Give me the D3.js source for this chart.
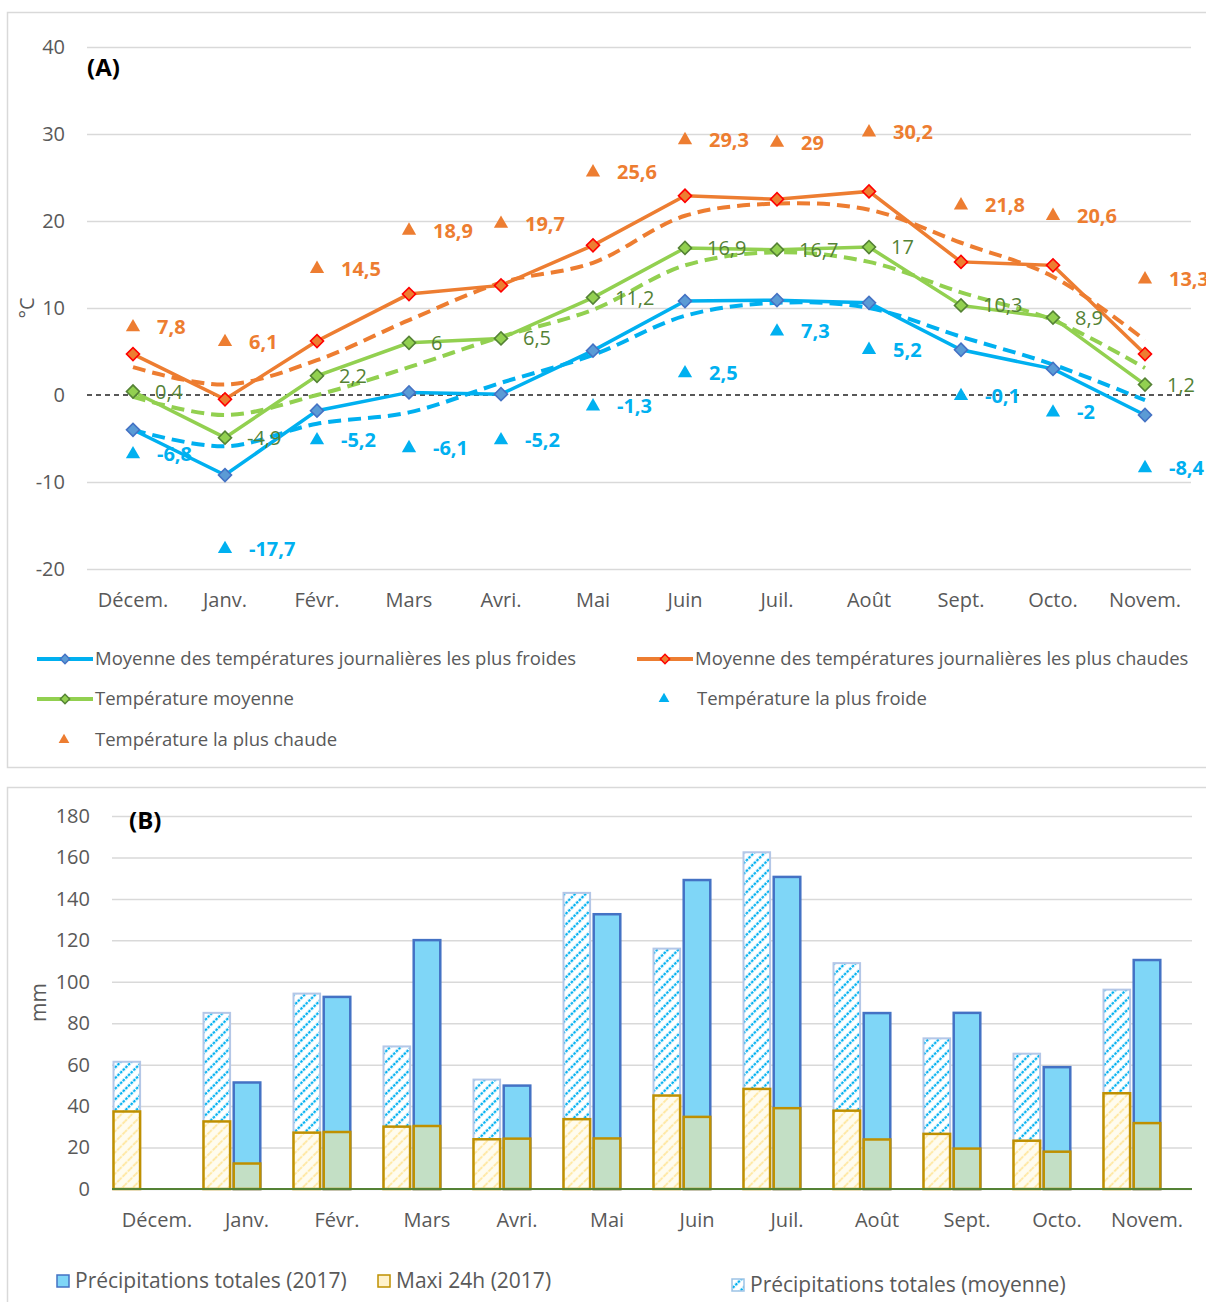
<!DOCTYPE html>
<html lang="fr">
<head>
<meta charset="utf-8">
<title>Températures et précipitations</title>
<script src="https://cdn.jsdelivr.net/npm/d3@7"></script>
<style>
  html, body { margin: 0; padding: 0; background: #fff; }
  svg { display: block; font-family: "Open Sans", "Noto Sans", sans-serif; }
</style>
</head>
<body>
<div id="chart"></div>
<script>
// Months (shared by both panels)
const months = ['Décem.', 'Janv.', 'Févr.', 'Mars', 'Avri.', 'Mai', 'Juin', 'Juil.', 'Août', 'Sept.', 'Octo.', 'Novem.'];

// (A) temperatures, °C
const coldMean = [-4.0, -9.2, -1.8, 0.3, 0.1, 5.1, 10.8, 10.9, 10.6, 5.2, 3.0, -2.3];
const warmMean = [4.7, -0.5, 6.2, 11.6, 12.6, 17.2, 22.9, 22.5, 23.4, 15.3, 14.9, 4.7];
const meanTemp = [0.4, -4.9, 2.2, 6, 6.5, 11.2, 16.9, 16.7, 17, 10.3, 8.9, 1.2];
const coldest = [-6.8, -17.7, -5.2, -6.1, -5.2, -1.3, 2.5, 7.3, 5.2, -0.1, -2, -8.4];
const hottest = [7.8, 6.1, 14.5, 18.9, 19.7, 25.6, 29.3, 29, 30.2, 21.8, 20.6, 13.3];
// dashed reference curves (normals)
const coldNormal = [-4.0, -5.9, -3.3, -2.0, 1.4, 4.6, 9.1, 10.6, 10.0, 6.7, 3.5, -0.6];
const warmNormal = [3.2, 1.2, 4.0, 8.6, 12.9, 15.2, 20.6, 22.0, 21.3, 17.5, 13.6, 6.3];
const meanNormal = [-0.2, -2.3, 0.0, 3.2, 6.7, 9.8, 14.9, 16.4, 15.3, 11.8, 8.6, 3.1];
const tempTicks = [-20, -10, 0, 10, 20, 30, 40];

// (B) precipitations, mm
const precipMoy = [61.4, 85, 94.3, 68.8, 52.8, 142.9, 116, 162.5, 109, 72.7, 65.3, 96.2];
const precip2017 = [null, 51.4, 92.7, 120.1, 49.9, 132.6, 149.1, 150.6, 84.9, 85, 58.8, 110.5];
const maxiMoy = [37.4, 32.6, 27.2, 30.1, 24.0, 33.7, 45.1, 48.3, 37.8, 26.6, 23.3, 46.2];
const maxi2017 = [null, 12.3, 27.5, 30.4, 24.3, 24.4, 34.8, 39.0, 23.9, 19.5, 18.0, 31.8];
const precipTicks = [0, 20, 40, 60, 80, 100, 120, 140, 160, 180];

const fmt = v => String(v).replace('.', ',');
const grey = '#595959';

const svg = d3.select('#chart').append('svg')
  .attr('width', 1206)
  .attr('height', 1302);

// patterns
const defs = svg.append('defs');
const pBlue = defs.append('pattern')
  .attr('id', 'hatchBlue')
  .attr('patternUnits', 'userSpaceOnUse')
  .attr('width', 7.5).attr('height', 7.5)
  .attr('patternTransform', 'rotate(45)');
pBlue.append('rect').attr('width', 7.5).attr('height', 7.5).attr('fill', '#fff');
pBlue.append('line')
  .attr('x1', 3.75).attr('y1', 0).attr('x2', 3.75).attr('y2', 7.5)
  .attr('stroke', '#00b0f0').attr('stroke-width', 2.3)
  .attr('stroke-dasharray', '2.5,1.25');

const pYellow = defs.append('pattern')
  .attr('id', 'hatchYellow')
  .attr('patternUnits', 'userSpaceOnUse')
  .attr('width', 7.5).attr('height', 7.5)
  .attr('patternTransform', 'rotate(45)');
pYellow.append('rect').attr('width', 7.5).attr('height', 7.5).attr('fill', '#fffcef');
pYellow.append('line')
  .attr('x1', 3.75).attr('y1', 0).attr('x2', 3.75).attr('y2', 7.5)
  .attr('stroke', '#ffe8a3').attr('stroke-width', 2)
  .attr('stroke-dasharray', '3,1.25');

// panel frames
svg.append('rect').attr('x', 7.5).attr('y', 12.5).attr('width', 1220).attr('height', 755)
  .attr('fill', 'none').attr('stroke', '#d9d9d9').attr('stroke-width', 1.5);
svg.append('rect').attr('x', 7.5).attr('y', 787.5).attr('width', 1220).attr('height', 540)
  .attr('fill', 'none').attr('stroke', '#d9d9d9').attr('stroke-width', 1.5);

/* ---------- (A) Temperatures ---------- */
const xA = d3.scaleBand().domain(months).range([87, 1191]);
const yA = d3.scaleLinear().domain([-20, 40]).range([569, 47]);
const cx = i => xA(months[i]) + xA.bandwidth() / 2;

const gA = svg.append('g');

gA.append('g')
  .attr('transform', 'translate(87,0)')
  .call(d3.axisLeft(yA).tickValues(tempTicks).tickFormat(d => String(d)).tickSize(-1104).tickPadding(22))
  .call(g => g.select('.domain').remove())
  .call(g => g.selectAll('.tick line').attr('stroke', '#d9d9d9').attr('stroke-width', 1.5))
  .call(g => g.selectAll('.tick').filter(d => d === 0).select('line').remove())
  .call(g => g.selectAll('.tick text').attr('fill', grey).attr('font-size', '20px')
    .attr('font-family', '"Open Sans", sans-serif'));

gA.append('line')
  .attr('x1', 87).attr('x2', 1191).attr('y1', yA(0)).attr('y2', yA(0))
  .attr('stroke', '#222').attr('stroke-width', 1.5).attr('stroke-dasharray', '5,4');

gA.append('g')
  .attr('transform', 'translate(0,569)')
  .call(d3.axisBottom(xA).tickSize(0).tickPadding(24))
  .call(g => g.select('.domain').remove())
  .call(g => g.selectAll('.tick text').attr('fill', grey).attr('font-size', '20px')
    .attr('font-family', '"Open Sans", sans-serif'));

gA.append('text')
  .attr('transform', `translate(34,${yA(10)}) rotate(-90)`)
  .attr('text-anchor', 'middle')
  .attr('fill', grey).attr('font-size', '20px')
  .text('°C');

gA.append('text')
  .attr('x', 87).attr('y', 76)
  .attr('font-size', '24px').attr('font-weight', 'bold').attr('fill', '#000')
  .text('(A)');

const lineA = d3.line().x((d, i) => cx(i)).y(d => yA(d));
const smoothA = d3.line().x((d, i) => cx(i)).y(d => yA(d)).curve(d3.curveCatmullRom);

const dashed = [
  { values: warmNormal, color: '#ed7d31' },
  { values: meanNormal, color: '#92d050' },
  { values: coldNormal, color: '#00b0f0' }
];
dashed.forEach(s => {
  gA.append('path')
    .attr('d', smoothA(s.values))
    .attr('fill', 'none').attr('stroke', s.color)
    .attr('stroke-width', 4).attr('stroke-dasharray', '13,7');
});

const solid = [
  { values: coldMean, color: '#00b0f0', fill: '#5b9bd5', edge: '#4472c4' },
  { values: warmMean, color: '#ed7d31', fill: '#ed7d31', edge: '#ff0000' },
  { values: meanTemp, color: '#92d050', fill: '#92d050', edge: '#548235' }
];
const diamond = d3.symbol().type(d3.symbolSquare).size(85);

solid.forEach(s => {
  gA.append('path')
    .attr('d', lineA(s.values))
    .attr('fill', 'none').attr('stroke', s.color).attr('stroke-width', 3.5);
});
solid.forEach(s => {
  gA.selectAll(null)
    .data(s.values)
    .enter()
    .append('path')
    .attr('d', diamond)
    .attr('transform', (d, i) => `translate(${cx(i)},${yA(d)}) rotate(45)`)
    .attr('fill', s.fill).attr('stroke', s.edge).attr('stroke-width', 1.6);
});

// green value labels
gA.selectAll(null)
  .data(meanTemp)
  .enter()
  .append('text')
  .attr('x', (d, i) => cx(i) + 22)
  .attr('y', d => yA(d))
  .attr('dy', '0.35em')
  .attr('fill', '#548235').attr('font-size', '20px')
  .text(fmt);

// extremes (triangles)
const tri = d3.symbol().type(d3.symbolTriangle).size(88);
const extremes = [
  { values: hottest, color: '#ed7d31' },
  { values: coldest, color: '#00b0f0' }
];
extremes.forEach(s => {
  gA.selectAll(null)
    .data(s.values)
    .enter()
    .append('path')
    .attr('d', tri)
    .attr('transform', (d, i) => `translate(${cx(i)},${yA(d)})`)
    .attr('fill', s.color);
  gA.selectAll(null)
    .data(s.values)
    .enter()
    .append('text')
    .attr('x', (d, i) => cx(i) + 24)
    .attr('y', d => yA(d))
    .attr('dy', '0.35em')
    .attr('fill', s.color).attr('font-size', '20px').attr('font-weight', 'bold')
    .text(fmt);
});

// legend (A)
const legA = gA.append('g').attr('font-size', '18.5px').attr('fill', grey);
const legLines = [
  { x: 37, y: 659, color: '#00b0f0', fill: '#5b9bd5', edge: '#4472c4', label: 'Moyenne des températures journalières les plus froides' },
  { x: 637, y: 659, color: '#ed7d31', fill: '#ed7d31', edge: '#ff0000', label: 'Moyenne des températures journalières les plus chaudes' },
  { x: 37, y: 699, color: '#92d050', fill: '#92d050', edge: '#548235', label: 'Température moyenne' }
];
legLines.forEach(l => {
  legA.append('line').attr('x1', l.x).attr('x2', l.x + 56).attr('y1', l.y).attr('y2', l.y)
    .attr('stroke', l.color).attr('stroke-width', 4);
  legA.append('path').attr('d', d3.symbol().type(d3.symbolSquare).size(44))
    .attr('transform', `translate(${l.x + 28},${l.y}) rotate(45)`)
    .attr('fill', l.fill).attr('stroke', l.edge).attr('stroke-width', 1.4);
  legA.append('text').attr('x', l.x + 58).attr('y', l.y).attr('dy', '0.35em').text(l.label);
});
const legTri = [
  { x: 664, tx: 697, y: 699, color: '#00b0f0', label: 'Température la plus froide' },
  { x: 64, tx: 95, y: 740, color: '#ed7d31', label: 'Température la plus chaude' }
];
legTri.forEach(l => {
  legA.append('path').attr('d', d3.symbol().type(d3.symbolTriangle).size(50))
    .attr('transform', `translate(${l.x},${l.y})`).attr('fill', l.color);
  legA.append('text').attr('x', l.tx).attr('y', l.y).attr('dy', '0.35em').text(l.label);
});

/* ---------- (B) Precipitations ---------- */
const xB = d3.scaleBand().domain(months).range([112, 1192]);
const xSub = d3.scaleBand().domain(['moy', '2017', 'vide'])
  .range([0, xB.bandwidth()]).paddingInner(0.12).paddingOuter(0.05);
const yB = d3.scaleLinear().domain([0, 180]).range([1189, 816]);

const gB = svg.append('g');

gB.append('g')
  .attr('transform', 'translate(112,0)')
  .call(d3.axisLeft(yB).tickValues(precipTicks).tickSize(-1080).tickPadding(22))
  .call(g => g.select('.domain').remove())
  .call(g => g.selectAll('.tick line').attr('stroke', '#d9d9d9').attr('stroke-width', 1.5))
  .call(g => g.selectAll('.tick text').attr('fill', grey).attr('font-size', '20px')
    .attr('font-family', '"Open Sans", sans-serif'));

gB.append('text')
  .attr('transform', `translate(46,${yB(90)}) rotate(-90)`)
  .attr('text-anchor', 'middle')
  .attr('fill', grey).attr('font-size', '21px')
  .text('mm');

gB.append('text')
  .attr('x', 129).attr('y', 829)
  .attr('font-size', '24px').attr('font-weight', 'bold').attr('fill', '#000')
  .text('(B)');

const bw = xSub.bandwidth();
const barX = (i, key) => xB(months[i]) + xSub(key);

function bars(values, key, fill, stroke, sw) {
  gB.selectAll(null)
    .data(values.map((v, i) => ({ v, i })).filter(d => d.v != null))
    .enter()
    .append('rect')
    .attr('x', d => barX(d.i, key))
    .attr('width', bw)
    .attr('y', d => yB(d.v))
    .attr('height', d => yB(0) - yB(d.v))
    .attr('fill', fill)
    .attr('stroke', stroke)
    .attr('stroke-width', sw);
}
bars(precipMoy, 'moy', 'url(#hatchBlue)', '#b4c7e7', 2);
bars(maxiMoy, 'moy', 'url(#hatchYellow)', '#bf9000', 2.5);
bars(precip2017, '2017', '#7fd6f7', '#4472c4', 2.5);
bars(maxi2017, '2017', '#c3dfc5', '#bf9000', 2.5);

gB.append('line')
  .attr('x1', 112).attr('x2', 1192).attr('y1', yB(0)).attr('y2', yB(0))
  .attr('stroke', '#548235').attr('stroke-width', 2);

gB.append('g')
  .attr('transform', 'translate(0,1189)')
  .call(d3.axisBottom(xB).tickSize(0).tickPadding(24))
  .call(g => g.select('.domain').remove())
  .call(g => g.selectAll('.tick text').attr('fill', grey).attr('font-size', '20px')
    .attr('font-family', '"Open Sans", sans-serif'));

// legend (B)
const legB = gB.append('g').attr('font-size', '21px').attr('fill', grey);
const legBars = [
  { x: 57, y: 1281, fill: '#7fd6f7', stroke: '#4472c4', label: 'Précipitations totales (2017)' },
  { x: 378, y: 1281, fill: '#fff2cc', stroke: '#bf9000', label: 'Maxi 24h (2017)' },
  { x: 732, y: 1285, fill: 'url(#hatchBlue)', stroke: '#9dc3e6', label: 'Précipitations totales (moyenne)' }
];
legBars.forEach(l => {
  legB.append('rect').attr('x', l.x).attr('y', l.y - 6).attr('width', 12).attr('height', 12)
    .attr('fill', l.fill).attr('stroke', l.stroke).attr('stroke-width', 1.5);
  legB.append('text').attr('x', l.x + 18).attr('y', l.y).attr('dy', '0.35em').text(l.label);
});
</script>
</body>
</html>
